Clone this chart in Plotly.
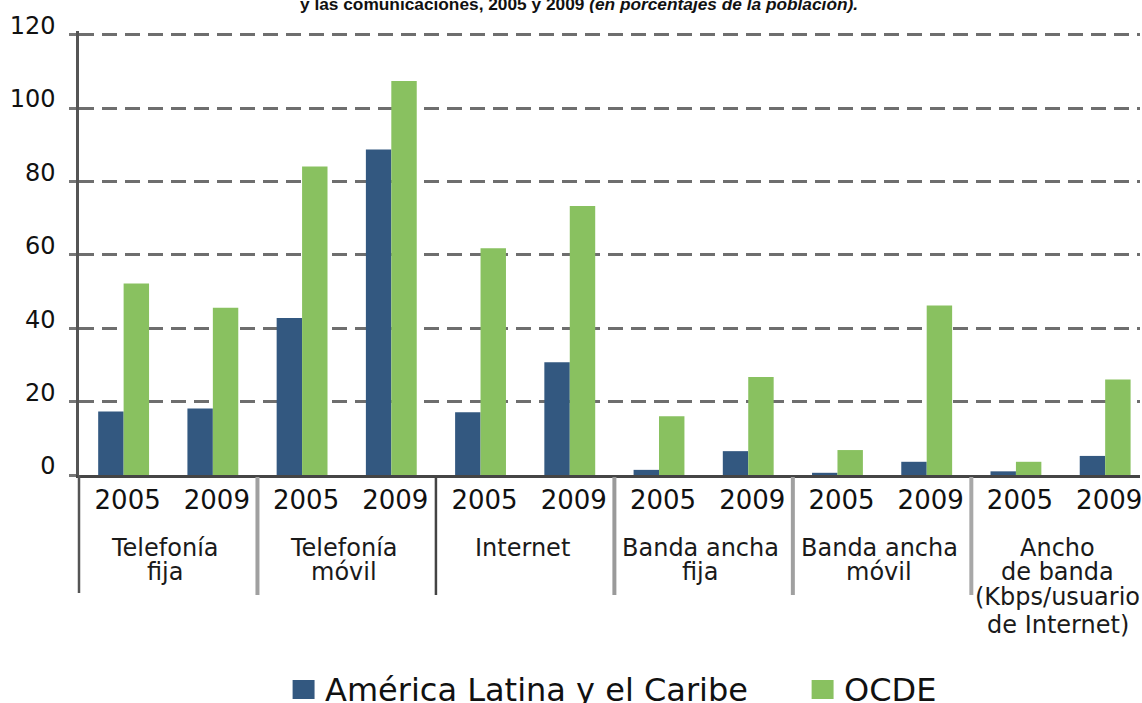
import plotly.graph_objects as go

# ---------------- data ----------------
years = ["2005", "2009", "2005", "2009", "2005", "2009",
         "2005", "2009", "2005", "2009", "2005", "2009"]
categories = [["Telefonía", "fija"],
              ["Telefonía", "móvil"],
              ["Internet"],
              ["Banda ancha", "fija"],
              ["Banda ancha", "móvil"],
              ["Ancho", "de banda", "(Kbps/usuario", "de Internet)"]]
alc = [17.3, 18.1, 42.8, 88.7, 17.1, 30.7, 1.4, 6.5, 0.6, 3.6, 1.0, 5.2]
ocde = [52.2, 45.6, 84.1, 107.4, 61.8, 73.3, 16.0, 26.7, 6.8, 46.2, 3.6, 26.0]
series_names = ["América Latina y el Caribe", "OCDE"]
y_ticks = [0, 20, 40, 60, 80, 100, 120]
title_plain = "y las comunicaciones, 2005 y 2009 "
title_ital = "(en porcentajes de la población)."

# ---------------- style ----------------
BLUE = "#335880"
GREEN = "#89C160"
W, H = 1142, 703
ML, MR, MT, MB = 79, 0, 31, 228
PW, PH = W - ML - MR, H - MT - MB
SLOT_PX = 89.4
FONT = "DejaVu Sans"

def px_x(px):
    return (px - ML) / PW

def px_y(py):
    return (H - MB - py) / PH

xs = list(range(len(years)))
fig = go.Figure()
fig.add_trace(go.Bar(x=xs, y=alc, name=series_names[0], marker_color=BLUE,
                     marker_line_width=0, showlegend=False))
fig.add_trace(go.Bar(x=xs, y=ocde, name=series_names[1], marker_color=GREEN,
                     marker_line_width=0, showlegend=False))

x_hi = -0.5 + PW / SLOT_PX
fig.update_layout(
    width=W, height=H,
    margin=dict(l=ML, r=MR, t=MT, b=MB, pad=0),
    paper_bgcolor="white", plot_bgcolor="white",
    barmode="group", bargap=0.43, bargroupgap=0,
    font=dict(family=FONT, color="#111"),
    xaxis=dict(range=[-0.5, x_hi], tickvals=xs, ticktext=years,
               showgrid=False, zeroline=False, showline=True,
               linecolor="#454545", linewidth=3, ticks="",
               tickfont=dict(size=26, color="#111", family=FONT),
               ticklabelstandoff=0, ticklabelshift=4,
               ticklabeloverflow="allow"),
    yaxis=dict(range=[0, 121], tickvals=y_ticks, showgrid=True,
               gridcolor="#6e6e6e", gridwidth=2.5, griddash="15px,8px",
               zeroline=False, showline=True, linecolor="#555", linewidth=2.5,
               ticks="outside", ticklen=7, tickwidth=2.5, tickcolor="#777",
               tickfont=dict(size=24, color="#111", family=FONT),
               ticklabelstandoff=9, ticklabelshift=-9),
)

shapes = []
annotations = []
# y-axis extension below the plot
shapes.append(dict(type="line", xref="paper", yref="paper", x0=0, x1=0,
                   y0=0, y1=px_y(593), line=dict(color="#555", width=2.5)))
# category separators
sep_colors = ["#a0a0a0", "#444", "#9a9a9a", "#a0a0a0", "#a8a8a8"]
sep_widths = [4, 2.5, 4, 4, 4]
for i in range(len(categories) - 1):
    xb = 2 * i + 1.5
    shapes.append(dict(type="line", xref="x", yref="paper", x0=xb, x1=xb,
                       y0=px_y(477), y1=px_y(595),
                       line=dict(color=sep_colors[i], width=sep_widths[i])))

# category labels
line_centers = [548, 572, 597, 625]
for i, lines in enumerate(categories):
    for j, txt in enumerate(lines):
        annotations.append(dict(x=2 * i + 0.5, y=px_y(line_centers[j]),
                                xref="x", yref="paper", text=txt,
                                showarrow=False, xanchor="center",
                                yanchor="middle", xshift=-3,
                                font=dict(size=24, color="#1a1a1a", family=FONT)))

# title (cut off at the top)
annotations.append(dict(x=px_x(580), y=1, xref="paper", yref="paper",
                        yanchor="bottom", yshift=15, showarrow=False,
                        text="<b>" + title_plain + "<i>" + title_ital + "</i></b>",
                        font=dict(size=17.3, color="#111",
                                  family="Liberation Sans Narrow, Liberation Sans")))

# legend
leg = [(293, BLUE, series_names[0], 323), (813, GREEN, series_names[1], 843)]
for sx, col, name, tx in leg:
    shapes.append(dict(type="rect", xref="paper", yref="paper",
                       x0=px_x(sx), x1=px_x(sx + 22), y0=px_y(699), y1=px_y(680),
                       fillcolor=col, line=dict(width=0)))
    annotations.append(dict(x=px_x(tx), y=px_y(690), xref="paper", yref="paper",
                            xanchor="left", yanchor="middle", showarrow=False,
                            text=name, font=dict(size=32, color="#111", family=FONT)))

fig.update_layout(shapes=shapes, annotations=annotations)
fig.write_html("out.html", config={"displayModeBar": False},
               post_script="document.body.style.margin='0';document.body.style.overflow='hidden';")
